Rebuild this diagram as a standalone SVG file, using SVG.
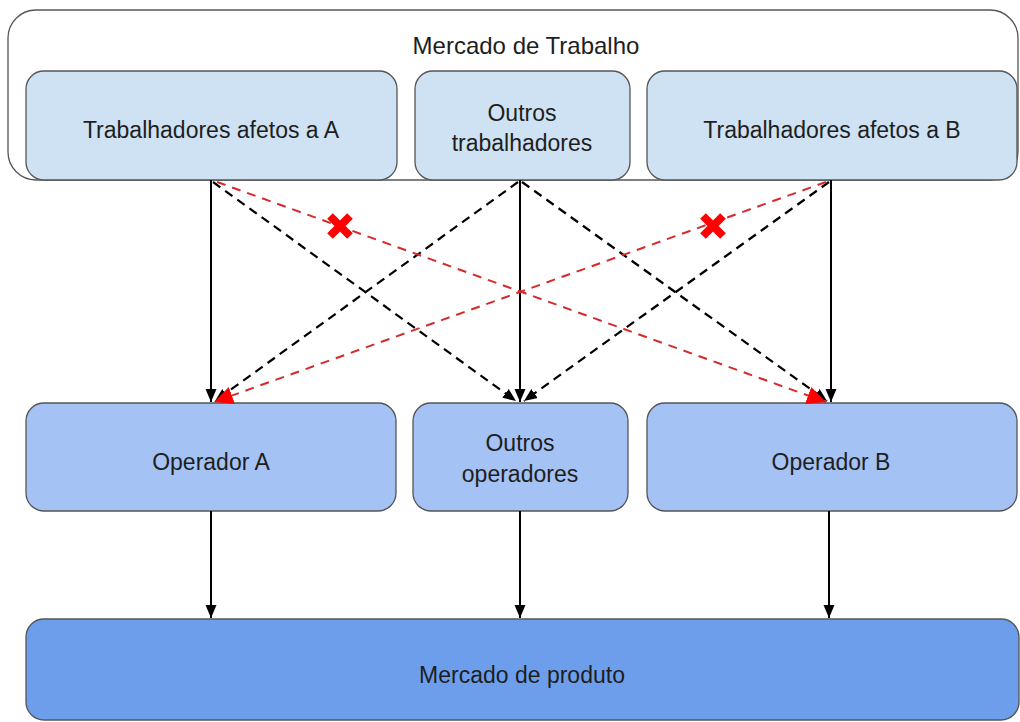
<svg xmlns="http://www.w3.org/2000/svg" width="1020" height="722" viewBox="0 0 1020 722">
<defs>
<style>
text{font-family:"Liberation Sans",Arial,sans-serif;font-size:23px;fill:#1e1e1e;text-anchor:middle}
.b1{fill:#cfe2f3;stroke:#555;stroke-width:1.3}
.b2{fill:#a4c2f4;stroke:#555;stroke-width:1.3}
.b3{fill:#6d9eeb;stroke:#555;stroke-width:1.3}
.solid{stroke:#000;stroke-width:2;fill:none}
.dash{stroke:#000;stroke-width:2.2;stroke-dasharray:9 6;fill:none}
.red{stroke:#d42a2a;stroke-width:2;stroke-dasharray:9 7;fill:none}
.x{stroke:#ff0000;stroke-width:8;fill:none}
</style>
<marker id="ah" markerUnits="userSpaceOnUse" markerWidth="14" markerHeight="14" viewBox="0 0 14 14" refX="13" refY="7" orient="auto">
<path d="M0,1.5 L13,7 L0,12.5 Z" fill="#000"/>
</marker>
<marker id="rh" markerUnits="userSpaceOnUse" markerWidth="20" markerHeight="20" viewBox="0 0 20 20" refX="19" refY="10" orient="auto">
<path d="M0,1 L19,10 L0,19 Z" fill="#ff0000"/>
</marker>
</defs>
<g id="mercado-trabalho">
<rect x="8" y="10" width="1010" height="170" rx="28" fill="#fff" stroke="#555" stroke-width="1.3"/>
<text x="526" y="54" style="font-size:24px">Mercado de Trabalho</text>
</g>
<g id="trab-a">
<rect class="b1" x="26" y="71" width="371" height="109" rx="18"/>
<text x="211" y="138">Trabalhadores afetos a A</text>
</g>
<g id="trab-outros">
<rect class="b1" x="415" y="71" width="215" height="109" rx="18"/>
<text x="522" y="121">Outros</text>
<text x="522" y="151">trabalhadores</text>
</g>
<g id="trab-b">
<rect class="b1" x="647" y="71" width="370" height="109" rx="18"/>
<text x="832" y="138">Trabalhadores afetos a B</text>
</g>
<g id="op-a">
<rect class="b2" x="26" y="403" width="370" height="108" rx="18"/>
<text x="211" y="470">Operador A</text>
</g>
<g id="op-outros">
<rect class="b2" x="413" y="403" width="215" height="108" rx="18"/>
<text x="520" y="451">Outros</text>
<text x="520" y="482">operadores</text>
</g>
<g id="op-b">
<rect class="b2" x="647" y="403" width="370" height="108" rx="18"/>
<text x="831" y="470">Operador B</text>
</g>
<g id="mercado-produto">
<rect class="b3" x="26" y="619" width="993" height="101" rx="18"/>
<text x="522" y="683">Mercado de produto</text>
</g>
<g id="connectors">
<line class="solid" x1="211" y1="180" x2="211" y2="402" marker-end="url(#ah)"/>
<line class="solid" x1="520" y1="180" x2="520" y2="402" marker-end="url(#ah)"/>
<line class="solid" x1="831" y1="180" x2="831" y2="402" marker-end="url(#ah)"/>
<line class="dash" x1="213" y1="182" x2="516" y2="401" marker-end="url(#ah)"/>
<line class="dash" x1="518" y1="182" x2="215" y2="401" marker-end="url(#ah)"/>
<line class="dash" x1="522" y1="182" x2="827" y2="401" marker-end="url(#ah)"/>
<line class="dash" x1="829" y1="182" x2="524" y2="401" marker-end="url(#ah)"/>
<line class="red" x1="217" y1="182" x2="826" y2="402" marker-end="url(#rh)"/>
<line class="red" x1="826" y1="182" x2="214" y2="402" marker-end="url(#rh)"/>
<line class="solid" x1="211" y1="511" x2="211" y2="618" marker-end="url(#ah)"/>
<line class="solid" x1="520" y1="511" x2="520" y2="618" marker-end="url(#ah)"/>
<line class="solid" x1="829" y1="511" x2="829" y2="618" marker-end="url(#ah)"/>
<path class="x" d="M330,216 L350,236 M350,216 L330,236"/>
<path class="x" d="M703,216 L723,236 M723,216 L703,236"/>
</g>
</svg>
